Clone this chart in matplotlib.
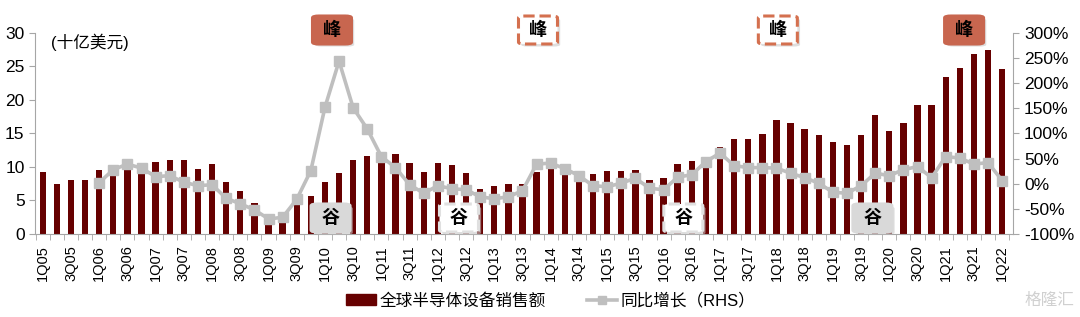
import numpy as np
import matplotlib
matplotlib.use("Agg")
import matplotlib.pyplot as plt
from matplotlib.patches import FancyBboxPatch
from matplotlib.lines import Line2D
from matplotlib.patches import Patch

plt.rcParams["font.family"] = ["Liberation Sans", "Noto Sans CJK SC", "DejaVu Sans"]

# quarterly 1Q05 .. 1Q22
quarters = ["%dQ%02d" % (q, y) for y in range(5, 23) for q in range(1, 5)][:69]

sales = [9.2, 7.5, 8.0, 8.0, 9.5, 9.3, 10.3, 9.3, 10.7, 11.0, 11.1, 9.7, 10.5, 7.8, 6.4, 4.6,
         3.0, 2.2, 4.6, 5.7, 7.7, 9.1, 11.1, 11.7, 11.3, 11.9, 10.6, 9.2, 10.6, 10.3, 9.1, 6.7,
         7.2, 7.5, 7.5, 9.2, 10.3, 9.3, 8.6, 8.9, 9.4, 9.4, 9.6, 8.0, 8.3, 10.5, 10.9, 11.0,
         13.0, 14.1, 14.2, 14.9, 17.0, 16.6, 15.7, 14.8, 13.7, 13.3, 14.8, 17.7, 15.4, 16.6,
         19.3, 19.3, 23.5, 24.8, 26.8, 27.4, 24.6]

yoy = [None, None, None, None, 2, 28, 39, 31, 14, 16, 3, -4, -2, -29, -40, -52,
       -70, -67, -31, 26, 152, 244, 151, 109, 54, 32, -2, -19, -4, -10, -12, -26,
       -30, -26, -14, 39, 41, 30, 16, -4, -6, 1, 11, -9, -12, 13, 18, 44,
       61, 36, 32, 32, 31, 21, 12, 1, -17, -19, -4, 21, 16, 28, 34, 12,
       54, 51, 39, 42, 6]

# tag centres in quarter index units (between bars where the reference puts them)
peak_pos = [20.5, 35.1, 52.1, 65.3]
peak_style = ["solid", "dashed", "dashed", "solid"]
trough_pos = [20.4, 29.5, 45.4, 58.8]
trough_style = ["solid", "dashed", "dashed", "solid"]

fig = plt.figure(figsize=(10.8, 3.17), dpi=100)
ax = fig.add_axes([0.0324, 0.262, 0.906, 0.634])
ax2 = ax.twinx()

x = np.arange(len(quarters))
ax.bar(x, sales, width=0.45, color="#660000", zorder=2)
ax.set_ylim(0, 30)
ax.set_yticks(range(0, 31, 5))
ax.set_xlim(-0.55, 68.8)

yoy_arr = np.array([np.nan if v is None else v for v in yoy], dtype=float)
ax2.plot(x, yoy_arr, color="#BFBFBF", lw=2.6, marker="s", ms=6.5, zorder=3)
ax2.set_ylim(-100, 300)
ax2.set_yticks(range(-100, 301, 50))
ax2.set_yticklabels(["%d%%" % v for v in range(-100, 301, 50)])
ax.set_zorder(ax2.get_zorder() - 1)
ax.patch.set_visible(False)
ax2.patch.set_visible(False)

ax.set_xticks(x[::2])
ax.set_xticklabels(quarters[::2], rotation=90, fontsize=10.5)
ax.set_xticks(np.arange(-0.5, 69, 1), minor=True)
ax.tick_params(axis="x", which="major", length=0, pad=8)
ax.tick_params(axis="x", which="minor", length=4, color="#A6A6A6")
ax.tick_params(axis="y", length=4, color="#A6A6A6", labelsize=12.5)
ax2.tick_params(axis="y", length=4, color="#A6A6A6", labelsize=12.5)

for a in (ax, ax2):
    a.spines["top"].set_visible(False)
    for s in ("left", "right", "bottom"):
        a.spines[s].set_color("#A6A6A6")
ax.spines["right"].set_visible(False)
ax2.spines["left"].set_visible(False)
ax2.spines["bottom"].set_visible(False)

ax.text(0.016, 0.955, "(十亿美元)", transform=ax.transAxes, fontsize=12, va="center")


def tag(char, pos, style, y_px, color_fill, edge):
    xd = ax.transData.transform((pos, 0))[0]
    w, h = 39, 28
    x0 = xd - w / 2
    y0 = 317 - y_px - h / 2
    inv = fig.transFigure.inverted()
    fx, fy = inv.transform((x0, y0))
    fw, fh = w / 1080, h / 317
    shadow = FancyBboxPatch((fx + 0.0025, fy - 0.008), fw, fh, boxstyle="round,pad=0,rounding_size=0.006",
                            transform=fig.transFigure, fc="#C8C8C8", ec="none", alpha=0.6, zorder=5)
    fig.patches.append(shadow)
    box = FancyBboxPatch((fx, fy), fw, fh, boxstyle="round,pad=0,rounding_size=0.006",
                         transform=fig.transFigure, fc=color_fill, ec=edge, lw=2.2,
                         ls="--" if style == "dashed" else "-", zorder=6)
    fig.patches.append(box)
    fig.text(fx + fw / 2, fy + fh / 2, char, ha="center", va="center",
             fontsize=13, fontweight="bold", zorder=7)


fig.canvas.draw()
for p, st in zip(peak_pos, peak_style):
    if st == "solid":
        tag("峰", p, st, 30, "#C8664F", "#C8664F")
    else:
        tag("峰", p, st, 30, "white", "#D4704F")
for p, st in zip(trough_pos, trough_style):
    if st == "solid":
        tag("谷", p, st, 218, "#D9D9D9", "#D9D9D9")
    else:
        tag("谷", p, st, 218, "white", "#E0E0E0")

handles = [Patch(color="#660000"),
           Line2D([], [], color="#BFBFBF", lw=2.6, marker="s", ms=6)]
fig.legend(handles, ["全球半导体设备销售额", "同比增长（RHS）"], loc="lower center",
           bbox_to_anchor=(0.51, -0.02), ncol=2, frameon=False, fontsize=12,
           handlelength=1.8, columnspacing=2.5, handletextpad=0.2)

fig.text(0.995, 0.03, "格隆汇", ha="right", va="bottom", fontsize=12, color="#D0D0D0")

fig.savefig("out.png", dpi=100)
